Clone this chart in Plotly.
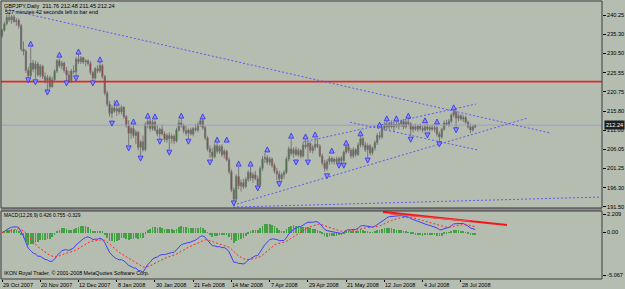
import plotly.graph_objects as go
import pandas as pd

# ---------------- data (GBPJPY daily, bar index 0 = 29 Oct 2007) ----------------
opens = [235.0, 236.4, 238.0, 239.6, 239.0, 239.8, 238.6, 238.9, 237.5, 231.6,
         231.0, 226.2, 224.8, 228.0, 226.5, 227.8, 225.0, 227.2, 224.6, 223.6,
         224.3, 222.0, 223.8, 226.0, 228.6, 227.3, 228.0, 226.2, 225.0, 223.6,
         226.0, 225.8, 229.0, 228.4, 229.4, 228.3, 228.6, 227.9, 225.6, 224.2,
         226.6, 226.0, 227.4, 224.6, 220.4, 217.6, 215.2, 216.6, 215.8, 216.4,
         215.6, 216.8, 214.4, 212.2, 210.2, 211.4, 209.6, 210.4, 206.6, 208.0,
         206.0, 212.4, 213.2, 211.4, 213.0, 211.0, 210.0, 211.2, 210.0, 208.6,
         209.6, 208.8, 209.4, 208.2, 211.0, 212.8, 212.2, 210.8, 210.2, 211.0,
         210.0, 211.4, 211.0, 212.4, 213.4, 211.6, 209.0, 206.2, 205.4, 204.2,
         207.0, 205.6, 206.8, 204.8, 205.6, 203.4, 200.4, 195.8, 193.4, 199.2,
         196.8, 197.6, 196.6, 198.4, 200.2, 198.8, 199.6, 198.6, 197.0, 201.2,
         203.6, 204.0, 202.8, 203.6, 202.0, 200.6, 199.8, 198.6, 199.6, 200.2,
         203.6, 206.2, 205.0, 206.0, 204.8, 205.8, 204.4, 207.2, 206.8, 207.6,
         205.8, 206.6, 207.4, 206.8, 204.4, 202.6, 201.2, 203.0, 203.8, 203.0,
         203.6, 203.0, 203.8, 203.2, 205.4, 206.8, 205.8, 204.4, 206.0, 204.8,
         207.2, 208.8, 207.2, 206.0, 207.0, 205.2, 206.4, 207.8, 209.6, 209.2,
         211.4, 212.4, 211.8, 212.6, 211.8, 212.4, 212.0, 212.6, 213.2, 211.8,
         213.0, 212.6, 211.2, 211.8, 211.2, 212.0, 211.4, 211.0, 211.8, 211.2,
         211.6, 211.2, 211.6, 210.0, 209.2, 211.2, 212.8, 212.4, 213.2, 214.8,
         215.6, 214.0, 214.6, 213.8, 214.2, 213.0, 211.8, 211.0, 211.76]
highs = [236.8, 238.5, 240.4, 240.6, 240.2, 240.3, 239.5, 239.4, 238.0, 233.5,
         231.5, 227.0, 232.0, 228.8, 228.6, 228.3, 227.8, 227.6, 225.6, 225.0,
         224.8, 224.6, 226.5, 229.0, 229.2, 228.6, 228.4, 227.0, 226.0, 226.5,
         227.5, 229.6, 230.5, 229.8, 229.6, 229.0, 229.0, 228.5, 226.0, 227.0,
         227.5, 228.5, 227.8, 225.0, 221.0, 218.4, 217.4, 218.6, 217.2, 217.0,
         217.4, 217.0, 214.8, 213.5, 211.8, 212.2, 211.0, 210.8, 208.4, 209.6,
         213.0, 214.0, 213.8, 213.6, 213.4, 212.2, 211.6, 212.4, 210.6, 210.2,
         210.4, 210.0, 209.8, 211.6, 213.6, 214.0, 212.6, 212.0, 211.4, 211.6,
         211.8, 212.6, 213.0, 214.0, 213.8, 212.0, 209.4, 207.0, 206.4, 207.6,
         207.8, 207.2, 207.4, 206.2, 206.0, 204.0, 201.0, 196.4, 199.8, 201.6,
         198.4, 198.6, 199.0, 200.8, 201.6, 200.2, 200.6, 199.4, 201.8, 204.4,
         205.2, 204.6, 204.2, 204.0, 202.6, 201.4, 200.6, 200.2, 200.8, 204.2,
         206.8, 208.6, 206.6, 206.8, 206.4, 206.2, 207.8, 208.6, 208.2, 208.0,
         207.2, 209.0, 209.0, 207.4, 205.0, 203.4, 203.6, 204.4, 204.2, 204.0,
         204.2, 204.2, 204.4, 205.8, 207.0, 207.4, 206.4, 206.6, 206.4, 207.8,
         209.4, 209.2, 208.0, 207.6, 207.4, 206.8, 208.4, 210.2, 210.6, 211.8,
         213.0, 213.4, 213.0, 213.4, 212.8, 213.2, 213.0, 213.6, 213.8, 213.6,
         214.0, 213.0, 212.4, 212.6, 212.4, 212.6, 212.2, 212.4, 212.6, 212.2,
         212.4, 212.2, 212.0, 210.6, 211.6, 213.4, 213.6, 213.8, 215.2, 216.2,
         216.0, 215.2, 215.0, 214.8, 214.6, 213.4, 212.6, 212.4, 212.48]
lows = [234.4, 236.0, 237.6, 238.5, 238.0, 238.3, 237.5, 236.8, 231.0, 230.0,
        225.5, 224.0, 224.5, 225.8, 224.0, 224.6, 224.4, 224.0, 222.8, 221.2,
        221.4, 221.8, 223.2, 225.5, 226.8, 226.4, 225.6, 223.4, 223.0, 223.0,
        225.3, 224.6, 227.8, 227.8, 227.8, 227.2, 227.4, 225.0, 223.4, 223.8,
        225.5, 225.6, 224.0, 219.8, 217.0, 214.4, 214.0, 215.4, 214.6, 215.0,
        215.0, 213.8, 211.6, 207.2, 208.8, 209.0, 207.4, 205.8, 204.6, 205.5,
        205.6, 211.4, 210.6, 210.8, 210.6, 209.4, 208.8, 209.6, 208.0, 207.8,
        206.0, 207.6, 207.4, 207.8, 210.6, 211.6, 210.2, 209.6, 208.8, 209.6,
        209.4, 210.6, 210.4, 211.8, 211.0, 208.4, 205.6, 204.0, 203.4, 203.8,
        205.0, 205.0, 204.2, 203.8, 203.0, 199.8, 195.2, 192.2, 193.0, 196.0,
        195.4, 196.0, 196.2, 197.8, 198.0, 197.6, 198.2, 196.8, 196.6, 200.6,
        202.6, 202.2, 202.0, 201.4, 200.0, 198.2, 197.8, 198.0, 198.6, 199.8,
        203.0, 204.4, 204.0, 204.4, 204.2, 203.8, 204.0, 206.2, 203.6, 205.2,
        205.0, 205.8, 206.4, 204.0, 202.0, 200.4, 200.6, 202.2, 202.4, 202.2,
        202.6, 202.4, 202.6, 202.8, 204.8, 205.2, 203.8, 203.8, 204.2, 204.4,
        206.6, 206.6, 205.4, 204.0, 204.6, 204.6, 205.8, 207.2, 208.6, 208.8,
        210.8, 211.2, 211.0, 211.4, 210.6, 211.6, 211.2, 211.8, 211.2, 211.4,
        212.0, 209.4, 210.4, 210.8, 210.6, 210.8, 210.4, 210.6, 210.8, 210.6,
        210.8, 210.4, 209.4, 207.8, 208.8, 210.8, 212.0, 211.8, 212.8, 214.2,
        211.5, 213.2, 213.4, 213.0, 212.6, 211.4, 210.2, 210.6, 211.45]
closes = [236.4, 238.0, 239.6, 239.0, 239.8, 238.6, 238.9, 237.5, 231.6, 231.0,
          226.2, 224.8, 228.0, 226.5, 227.8, 225.0, 227.2, 224.6, 223.6, 224.3,
          222.0, 223.8, 226.0, 228.6, 227.3, 228.0, 226.2, 225.0, 223.6, 226.0,
          225.8, 229.0, 228.4, 229.4, 228.3, 228.6, 227.9, 225.6, 224.2, 226.6,
          226.0, 227.4, 224.6, 220.4, 217.6, 215.2, 216.6, 215.8, 216.4, 215.6,
          216.8, 214.4, 212.2, 210.2, 211.4, 209.6, 210.4, 206.6, 208.0, 206.0,
          212.4, 213.2, 211.4, 213.0, 211.0, 210.0, 211.2, 210.0, 208.6, 209.6,
          208.8, 209.4, 208.2, 211.0, 212.8, 212.2, 210.8, 210.2, 211.0, 210.0,
          211.4, 211.0, 212.4, 213.4, 211.6, 209.0, 206.2, 205.4, 204.2, 207.0,
          205.6, 206.8, 204.8, 205.6, 203.4, 200.4, 195.8, 193.4, 199.2, 196.8,
          197.6, 196.6, 198.4, 200.2, 198.8, 199.6, 198.6, 197.0, 201.2, 203.6,
          204.0, 202.8, 203.6, 202.0, 200.6, 199.8, 198.6, 199.6, 200.2, 203.6,
          206.2, 205.0, 206.0, 204.8, 205.8, 204.4, 207.2, 206.8, 207.6, 205.8,
          206.6, 207.4, 206.8, 204.4, 202.6, 201.2, 203.0, 203.8, 203.0, 203.6,
          203.0, 203.8, 203.2, 205.4, 206.8, 205.8, 204.4, 206.0, 204.8, 207.2,
          208.8, 207.2, 206.0, 207.0, 205.2, 206.4, 207.8, 209.6, 209.2, 211.4,
          212.4, 211.8, 212.6, 211.8, 212.4, 212.0, 212.6, 213.2, 211.8, 213.0,
          212.6, 211.2, 211.8, 211.2, 212.0, 211.4, 211.0, 211.8, 211.2, 211.6,
          211.2, 211.6, 210.0, 209.2, 211.2, 212.8, 212.4, 213.2, 214.8, 215.6,
          214.0, 214.6, 213.8, 214.2, 213.0, 211.8, 211.0, 211.8, 212.24]
bar_idx = list(range(len(closes)))

# date labels on the time axis (every 16 bars)
date_label_idx = [0, 16, 32, 48, 64, 80, 96, 112, 128, 144, 160, 176, 192]
date_labels = ["29 Oct 2007", "20 Nov 2007", "12 Dec 2007", "8 Jan 2008", "30 Jan 2008",
               "21 Feb 2008", "14 Mar 2008", "7 Apr 2008", "29 Apr 2008", "21 May 2008",
               "12 Jun 2008", "4 Jul 2008", "28 Jul 2008"]

price_ticks = [240.25, 235.30, 230.50, 225.55, 220.75, 215.80, 211.00, 206.05, 201.25, 196.30, 191.50]
macd_ticks = [2.209, 0.0, -5.067]
macd_tick_text = ["2.209", "0.00", "-5.067"]

# fractals (bar index, price of arrow)
up_idx = [12, 24, 32, 41, 48, 55, 61, 64, 75, 84, 90, 94, 99, 104, 111, 121, 127, 131,
          138, 144, 150, 158, 161, 165, 170, 177, 182, 189]
up_px = [233.6, 230.8, 231.6, 229.6, 218.6, 213.8, 215.3, 215.1, 215.3, 215.1, 209.2, 209.2,
         203.1, 203.1, 206.7, 210.2, 210.0, 210.5, 206.4, 208.4, 210.8, 213.0, 214.6, 214.6,
         215.3, 214.1, 213.8, 217.4]
dn_idx = [11, 14, 19, 27, 31, 38, 46, 53, 58, 66, 70, 78, 87, 97, 107, 116, 123, 128, 136,
          141, 143, 153, 171, 178, 183, 190]
dn_px = [223.0, 222.5, 219.9, 222.2, 223.5, 222.2, 212.0, 205.7, 203.1, 207.4, 204.6, 207.4,
         202.1, 191.7, 195.5, 196.6, 202.1, 202.1, 198.6, 201.3, 201.3, 202.6, 207.9, 209.0,
         206.7, 210.3]

# drawn objects (anchor points in bar index / price units)
trend_lines = [
    ([1.3, 229.3], [241.8, 210.25]),
    ([125.9, 198.3], [207.95, 217.6]),
    ([96.7, 219.7], [191.9, 214.0]),
    ([145.6, 199.2], [213.0, 205.9]),
    ([96.7, 250.2], [191.4, 193.95]),
]
resistance_level = 223.3
bid_price = 212.24
macd_lines = [
    ([159.4, 211.3], [2.45, 0.90], 2.2, "#F01818"),
    ([162.3, 195.8], [2.21, 1.37], 1.2, "#E85050"),
]

# ---------------- indicator ----------------
s = pd.Series(closes)
macd = s.ewm(span=12, adjust=False).mean() - s.ewm(span=26, adjust=False).mean()
signal = macd.ewm(span=9, adjust=False).mean()
hist = macd - signal

# ---------------- figure ----------------
BG = "#B5BCB0"
FONT = "Liberation Sans"
X_RANGE = [-0.42, 251.05]
PRICE_DOM = [0.2554, 1.0]
MACD_DOM = [0.0, 0.2446]

fig = go.Figure()

fig.add_trace(go.Candlestick(
    x=bar_idx, open=opens, high=highs, low=lows, close=closes,
    increasing=dict(line=dict(color="#727272", width=0.9), fillcolor="#0F7A0F"),
    decreasing=dict(line=dict(color="#727272", width=0.9), fillcolor="#AE1212"),
    whiskerwidth=0, xaxis="x", yaxis="y", hoverinfo="skip"))

# horizontal levels
fig.add_trace(go.Scatter(x=X_RANGE, y=[resistance_level] * 2, mode="lines",
                         line=dict(color="#E02828", width=1.6), xaxis="x", yaxis="y"))
fig.add_trace(go.Scatter(x=X_RANGE, y=[bid_price] * 2, mode="lines",
                         line=dict(color="#9C9CCB", width=1), xaxis="x", yaxis="y"))

for xs, ys in trend_lines:
    fig.add_trace(go.Scatter(x=xs, y=ys, mode="lines",
                             line=dict(color="#5C5CF2", width=1, dash="2px,2px"),
                             xaxis="x", yaxis="y"))

fig.add_trace(go.Scatter(x=up_idx, y=up_px, mode="markers",
                         marker=dict(symbol="arrow-up", size=5, color="#8C8CFF",
                                     line=dict(color="#2E2EE0", width=0.8)),
                         xaxis="x", yaxis="y", cliponaxis=False))
fig.add_trace(go.Scatter(x=dn_idx, y=dn_px, mode="markers",
                         marker=dict(symbol="arrow-down", size=5, color="#8C8CFF",
                                     line=dict(color="#2E2EE0", width=0.8)),
                         xaxis="x", yaxis="y", cliponaxis=False))

# MACD panel
fig.add_trace(go.Bar(x=bar_idx, y=hist, width=0.28, marker=dict(color="#45A045", line=dict(width=0)),
                     xaxis="x2", yaxis="y2"))
fig.add_trace(go.Scatter(x=bar_idx, y=macd, mode="lines", line=dict(color="#3F3FFF", width=1),
                         xaxis="x2", yaxis="y2"))
fig.add_trace(go.Scatter(x=bar_idx, y=signal, mode="lines",
                         line=dict(color="#FF2A2A", width=1, dash="2px,2px"),
                         xaxis="x2", yaxis="y2"))
for xs, ys, w, c in macd_lines:
    fig.add_trace(go.Scatter(x=xs, y=ys, mode="lines", line=dict(color=c, width=w),
                             xaxis="x2", yaxis="y2"))

axis_font = dict(family=FONT, size=5.6, color="#000000")
common_y = dict(side="right", showgrid=False, zeroline=False, ticks="outside", ticklen=3,
                tickcolor="#000000", tickwidth=1, tickfont=axis_font, showline=False)

fig.update_layout(
    width=625, height=289,
    margin=dict(l=1, r=23, t=1, b=10),
    paper_bgcolor=BG, plot_bgcolor=BG,
    showlegend=False, bargap=0,
    xaxis=dict(domain=[0, 1], anchor="y", range=X_RANGE, showticklabels=False, showgrid=False,
               zeroline=False, ticks="", rangeslider=dict(visible=False), showline=False),
    xaxis2=dict(domain=[0, 1], anchor="y2", range=X_RANGE, matches="x", showgrid=False,
                zeroline=False, tickvals=date_label_idx, ticks="outside", ticklen=2,
                tickcolor="#000000", showticklabels=False, showline=False),
    yaxis=dict(domain=PRICE_DOM, range=[191.17, 243.81], tickvals=price_ticks,
               ticktext=["%.2f" % v for v in price_ticks], **common_y),
    yaxis2=dict(domain=MACD_DOM, range=[-5.544, 2.567], tickvals=macd_ticks,
                ticktext=macd_tick_text, **common_y),
)

# panel frames
fig.add_shape(type="rect", xref="paper", yref="paper", x0=0, x1=1, y0=PRICE_DOM[0], y1=1,
              line=dict(color="#3C3C3C", width=1))
fig.add_shape(type="rect", xref="paper", yref="paper", x0=0, x1=1, y0=0, y1=MACD_DOM[1],
              line=dict(color="#3C3C3C", width=1))
fig.add_shape(type="rect", xref="paper", yref="paper", x0=0, x1=1, y0=MACD_DOM[1],
              y1=PRICE_DOM[0], line=dict(width=0), fillcolor="#8C8C8C", layer="below")


def px_x(px):
    return (px - 1) / 601.0


def px_y(py):
    return (279 - py) / 278.0


texts = [
    ("GBPJPY,Daily  211.76 212.48 211.45 212.24", 3, 5.5, 5.6),
    ("527 minutes 42 seconds left to bar end", 4, 12.5, 5.4),
    ("MACD(12,26,9) 0.426 0.755 -0.329", 3, 215.5, 4.9),
    ("IKON Royal Trader, \u00a9 2001-2008 MetaQuotes Software Corp.", 3, 272.5, 5.3),
]
for t, x, y, sz in texts:
    fig.add_annotation(text=t, xref="paper", yref="paper", x=px_x(x), y=px_y(y),
                       xanchor="left", yanchor="middle", showarrow=False,
                       font=dict(family=FONT, size=sz, color="#000000"), borderpad=0)

for i, lab in zip(date_label_idx, date_labels):
    fig.add_annotation(text=lab, xref="x2", yref="paper", x=i, y=px_y(284.5),
                       xanchor="left", yanchor="middle", showarrow=False,
                       font=dict(family=FONT, size=5.5, color="#000000"), borderpad=0)

fig.add_annotation(text="212.24", xref="paper", yref="y", x=1.0, y=bid_price, xanchor="left",
                   yanchor="middle", showarrow=False, xshift=2,
                   font=dict(family=FONT, size=5.6, color="#FFFFFF"), bgcolor="#1E1E1E",
                   borderpad=1)

fig.write_html("out.html")
